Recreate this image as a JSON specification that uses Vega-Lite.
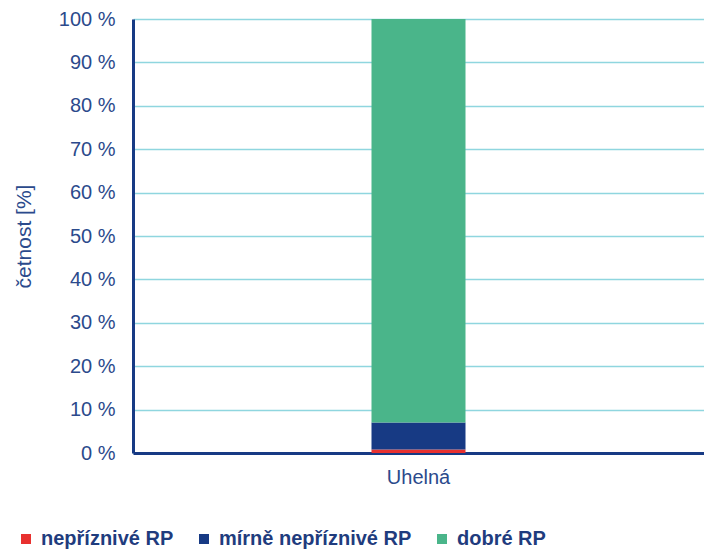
{
  "$schema": "https://vega.github.io/schema/vega-lite/v6.json",
  "width": 571,
  "height": 434,
  "autosize": {"type": "none"},
  "padding": {"left": 133, "top": 19, "right": 0, "bottom": 97},
  "background": "white",
  "data": {"values": [
    {"kat": "Uhelná", "typ": "nepříznivé RP", "val": 0.8, "ord": 1},
    {"kat": "Uhelná", "typ": "mírně nepříznivé RP", "val": 6.2, "ord": 2},
    {"kat": "Uhelná", "typ": "dobré RP", "val": 93.0, "ord": 3}
  ]},
  "mark": {"type": "bar", "size": 94},
  "encoding": {
    "x": {"field": "kat", "type": "nominal", "title": null,
      "axis": {"labelAngle": 0, "ticks": false, "domainColor": "#173a84", "domainWidth": 3, "labelColor": "#2b4a8c", "labelFont": "Liberation Sans", "labelFontSize": 20, "labelPadding": 14, "grid": false}},
    "y": {"field": "val", "type": "quantitative", "stack": "zero",
      "scale": {"domain": [0, 100], "nice": false},
      "title": "četnost [%]",
      "axis": {"values": [0,10,20,30,40,50,60,70,80,90,100], "labelExpr": "datum.value + ' %'", "ticks": false, "domainColor": "#173a84", "domainWidth": 3, "gridColor": "#8fd6df", "gridWidth": 1.5, "labelColor": "#2b4a8c", "labelFont": "Liberation Sans", "labelFontSize": 20, "labelPadding": 18, "titleColor": "#2b4a8c", "titleFont": "Liberation Sans", "titleFontSize": 21, "titleFontWeight": "normal", "titlePadding": 24}},
    "color": {"field": "typ", "type": "nominal",
      "scale": {"domain": ["nepříznivé RP", "mírně nepříznivé RP", "dobré RP"], "range": ["#e8312f", "#173a84", "#4ab58a"]},
      "legend": {"title": null, "orient": "none", "direction": "horizontal", "legendX": -117, "legendY": 510, "symbolType": "square", "symbolSize": 100, "symbolStrokeWidth": 0, "labelFont": "Liberation Sans", "labelFontSize": 20, "labelFontWeight": "bold", "labelColor": "#1f3c7e", "labelLimit": 400, "columnPadding": 20, "labelOffset": 5}},
    "order": {"field": "ord", "type": "quantitative"}
  },
  "config": {"view": {"stroke": null}}
}
